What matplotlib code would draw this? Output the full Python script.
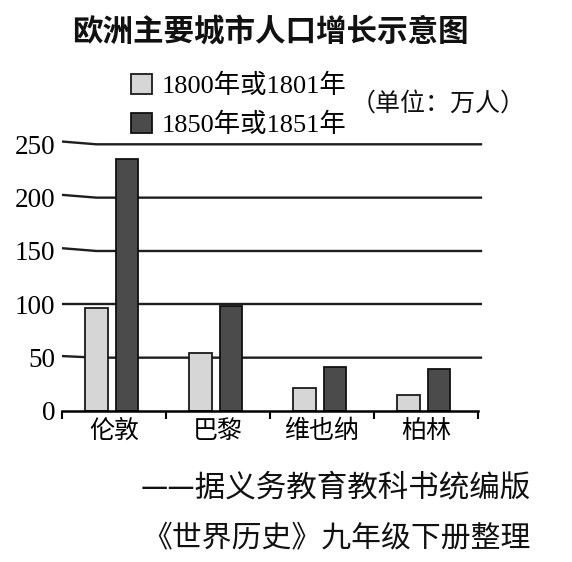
import numpy as np
import matplotlib.pyplot as plt

# 数据（单位：万人）
cities = ['伦敦', '巴黎', '维也纳', '柏林']
pop_1800 = [97, 54, 22, 15]
pop_1850 = [236, 98, 41, 39]
y_ticks = [0, 50, 100, 150, 200, 250]
legend_labels = ['1800年或1801年', '1850年或1851年']

cjk = ['Noto Sans CJK SC', 'DejaVu Sans']
serif = ['Liberation Serif', 'Noto Sans CJK SC']

W, H = 572, 562
fig = plt.figure(figsize=(W / 100, H / 100), dpi=100)
ax = fig.add_axes([62 / W, 1 - 411 / H, 416 / W, 266.7 / H])

x = np.arange(len(cities))
b1 = ax.bar(x - 0.165, pop_1800, width=0.22, color='#d6d6d6',
            edgecolor='#1a1a1a', lw=1.3, zorder=3, label=legend_labels[0])
b2 = ax.bar(x + 0.125, pop_1850, width=0.22, color='#4b4b4b',
            edgecolor='#111111', lw=1.3, zorder=3, label=legend_labels[1])

ax.set_xlim(-0.5, len(cities) - 0.5)
ax.set_ylim(0, 250)

# 横线（左端略微弯折）
for v in y_ticks[1:]:
    bend = 2.6 if v >= 150 else (1.5 if v == 50 else 0)
    ax.plot([-0.5, -0.17, 3.54], [v + bend, v, v], color='#1e1e1e',
            lw=1.7, zorder=1, clip_on=False, solid_capstyle='butt')

for s in ['left', 'right', 'top']:
    ax.spines[s].set_visible(False)
ax.spines['bottom'].set_linewidth(1.8)
ax.spines['bottom'].set_zorder(4)

ax.set_yticks(y_ticks)
ax.set_yticklabels([str(v) for v in y_ticks], family=serif, fontsize=19.5)
ax.tick_params(axis='y', length=0, pad=5)

ax.set_xticks(np.arange(len(cities) + 1) - 0.5)
ax.set_xticklabels([])
ax.tick_params(axis='x', which='major', direction='out', length=6, width=1.5)
ax.set_xticks(x, minor=True)
ax.set_xticklabels(cities, minor=True, family=cjk, fontsize=18)
ax.tick_params(axis='x', which='minor', length=0, pad=5)

fig.text(270 / W, 1 - 32 / H, '欧洲主要城市人口增长示意图', family=cjk,
         fontsize=22, fontweight='bold', ha='center', va='center', color='#111111')

fig.legend(handles=[b1, b2], loc='upper left', bbox_to_anchor=(131 / W, 1 - 74 / H),
           frameon=False, prop={'family': serif, 'size': 19},
           handlelength=0.8, handleheight=0.8, handletextpad=0.35,
           labelspacing=0.55, borderpad=0, borderaxespad=0)

fig.text(526 / W, 1 - 104 / H, '（单位：万人）', family=cjk, fontsize=18,
         ha='right', va='center', color='#111111')

fig.text(531 / W, 1 - 488 / H, '——据义务教育教科书统编版', family=cjk,
         fontsize=22, ha='right', va='center', color='#111111')
fig.text(531 / W, 1 - 538 / H, '《世界历史》九年级下册整理', family=cjk,
         fontsize=21.5, ha='right', va='center', color='#111111')

fig.savefig('out.png', dpi=100)
